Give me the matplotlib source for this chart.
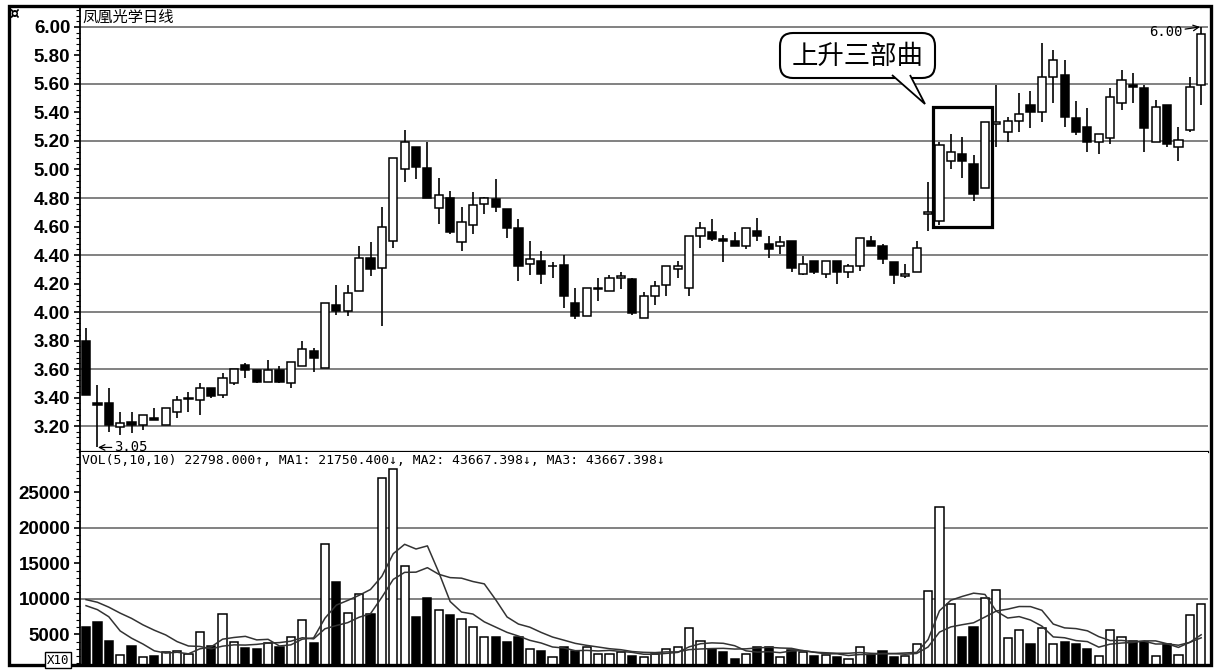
import matplotlib
matplotlib.use("Agg")
import matplotlib.pyplot as plt
from matplotlib.patches import Rectangle, FancyBboxPatch, Polygon
from matplotlib.ticker import MultipleLocator
import pandas as pd

# 日线数据 (开, 高, 低, 收)
opens = [3.80, 3.36, 3.36, 3.19, 3.23, 3.21, 3.26, 3.21, 3.30, 3.39,
         3.38, 3.47, 3.42, 3.50, 3.63, 3.59, 3.51, 3.59, 3.50, 3.62,
         3.73, 3.61, 4.05, 4.01, 4.15, 4.38, 4.31, 4.50, 5.00, 5.16,
         5.01, 4.73, 4.80, 4.49, 4.61, 4.76, 4.79, 4.72, 4.59, 4.34,
         4.36, 4.32, 4.33, 4.06, 3.97, 4.16, 4.15, 4.24, 4.23, 3.96,
         4.11, 4.19, 4.30, 4.17, 4.53, 4.56, 4.51, 4.50, 4.46, 4.57,
         4.48, 4.46, 4.50, 4.27, 4.36, 4.27, 4.36, 4.28, 4.32, 4.50,
         4.46, 4.35, 4.25, 4.28, 4.69, 4.64, 5.06, 5.11, 5.04, 4.87,
         5.32, 5.26, 5.34, 5.45, 5.40, 5.65, 5.66, 5.36, 5.30, 5.19,
         5.22, 5.47, 5.59, 5.57, 5.19, 5.45, 5.16, 5.28, 5.59]
highs = [3.89, 3.49, 3.47, 3.30, 3.30, 3.28, 3.33, 3.33, 3.41, 3.44,
         3.50, 3.47, 3.57, 3.60, 3.64, 3.59, 3.66, 3.62, 3.65, 3.80,
         3.75, 4.06, 4.19, 4.19, 4.46, 4.49, 4.74, 5.08, 5.28, 5.16,
         5.19, 4.94, 4.85, 4.74, 4.84, 4.81, 4.93, 4.72, 4.65, 4.50,
         4.43, 4.35, 4.40, 4.17, 4.17, 4.24, 4.26, 4.28, 4.24, 4.14,
         4.22, 4.32, 4.36, 4.53, 4.63, 4.65, 4.54, 4.56, 4.59, 4.66,
         4.53, 4.53, 4.50, 4.39, 4.36, 4.36, 4.36, 4.34, 4.52, 4.53,
         4.48, 4.35, 4.34, 4.50, 4.91, 5.19, 5.25, 5.23, 5.10, 5.33,
         5.59, 5.37, 5.54, 5.55, 5.89, 5.84, 5.77, 5.48, 5.43, 5.25,
         5.57, 5.70, 5.68, 5.59, 5.49, 5.45, 5.30, 5.65, 6.00]
lows = [3.42, 3.05, 3.16, 3.14, 3.15, 3.17, 3.24, 3.21, 3.26, 3.30,
        3.28, 3.40, 3.40, 3.49, 3.54, 3.50, 3.51, 3.50, 3.47, 3.62,
        3.58, 3.61, 3.98, 3.97, 4.15, 4.25, 3.90, 4.45, 4.91, 4.93,
        4.80, 4.62, 4.55, 4.43, 4.55, 4.69, 4.70, 4.52, 4.22, 4.26,
        4.20, 4.24, 4.03, 3.95, 3.97, 4.08, 4.15, 4.16, 3.98, 3.96,
        4.05, 4.11, 4.24, 4.11, 4.45, 4.50, 4.35, 4.46, 4.44, 4.50,
        4.38, 4.41, 4.28, 4.26, 4.27, 4.24, 4.20, 4.24, 4.29, 4.46,
        4.34, 4.20, 4.24, 4.28, 4.57, 4.61, 5.00, 4.94, 4.78, 4.87,
        5.16, 5.19, 5.26, 5.29, 5.33, 5.47, 5.30, 5.24, 5.12, 5.11,
        5.18, 5.42, 5.47, 5.12, 5.19, 5.16, 5.06, 5.26, 5.45]
closes = [3.42, 3.35, 3.21, 3.22, 3.21, 3.28, 3.24, 3.33, 3.38, 3.40,
          3.47, 3.41, 3.54, 3.60, 3.59, 3.51, 3.59, 3.51, 3.65, 3.74,
          3.68, 4.06, 4.01, 4.13, 4.38, 4.30, 4.60, 5.08, 5.19, 5.02,
          4.80, 4.82, 4.56, 4.63, 4.75, 4.80, 4.74, 4.59, 4.32, 4.37,
          4.27, 4.32, 4.11, 3.97, 4.17, 4.17, 4.24, 4.25, 3.99, 4.11,
          4.18, 4.32, 4.32, 4.53, 4.59, 4.51, 4.50, 4.46, 4.59, 4.53,
          4.44, 4.49, 4.31, 4.34, 4.28, 4.36, 4.28, 4.32, 4.52, 4.46,
          4.37, 4.26, 4.27, 4.45, 4.70, 5.17, 5.12, 5.06, 4.83, 5.33,
          5.33, 5.34, 5.39, 5.40, 5.65, 5.77, 5.37, 5.26, 5.19, 5.25,
          5.51, 5.63, 5.58, 5.29, 5.44, 5.18, 5.21, 5.58, 5.95]
# 成交量
volumes = [6000, 6800, 4100, 2100, 3400, 1900, 2000, 2500, 2700, 2300,
           5400, 3400, 7900, 3900, 3100, 2900, 3800, 3200, 4700, 7100,
           3800, 17700, 12400, 8000, 10700, 7900, 27000, 28300, 14600, 7400,
           10100, 8400, 7700, 7200, 6000, 4600, 4700, 4000, 4600, 3000,
           2700, 1900, 3300, 2700, 3200, 2300, 2300, 2600, 2000, 1900,
           2300, 2900, 3300, 5900, 4100, 2900, 2600, 1600, 2300, 3200,
           3200, 1900, 2800, 2600, 2000, 2100, 1900, 1600, 3300, 2100,
           2700, 1900, 2000, 3700, 11100, 23000, 9300, 4700, 6000, 10200,
           11200, 4500, 5700, 3600, 5900, 3600, 3900, 3700, 2900, 2000,
           5700, 4700, 4100, 4000, 2000, 3700, 2100, 7700, 9300]
# 图左边之外的前几天成交量 (只用来算均线)
prev_volumes = [10500, 11000, 10500, 10800, 11000, 9600, 9100, 12100, 8500]

price_ticks = [3.20, 3.40, 3.60, 3.80, 4.00, 4.20, 4.40, 4.60, 4.80,
               5.00, 5.20, 5.40, 5.60, 5.80, 6.00]
price_grid = [3.20, 3.60, 4.00, 4.40, 4.80, 5.20, 5.60, 6.00]
vol_ticks = [5000, 10000, 15000, 20000, 25000]
vol_grid = [10000, 20000]

df = pd.DataFrame({"open": opens, "high": highs, "low": lows,
                   "close": closes, "vol": volumes})
df["x"] = range(len(df))
allvol = pd.Series(prev_volumes + volumes)
df["ma5"] = allvol.rolling(5, min_periods=1).mean().values[len(prev_volumes):]
df["ma10"] = allvol.rolling(10, min_periods=1).mean().values[len(prev_volumes):]
df["up"] = df["close"] >= df["open"]

W, H = 1216, 671
fig = plt.figure(figsize=(W / 100, H / 100), dpi=100)
fig.patch.set_facecolor("white")
ax1 = fig.add_axes([80 / W, 1 - 452 / H, 1128 / W, 444 / H])
ax2 = fig.add_axes([80 / W, 1 - 664 / H, 1128 / W, 212 / H])

lab_font = dict(family="Liberation Sans", weight="bold", size=13.5)
mono = ["DejaVu Sans Mono"]

# ---- K线 ----
body_w = 0.72
ax1.vlines(df["x"], df["low"], df["high"], color="black", lw=1.2, zorder=3)
hgt = (df["close"] - df["open"]).abs().clip(lower=0.006)
bot = df[["open", "close"]].min(axis=1)
ax1.bar(df["x"], hgt, bottom=bot, width=body_w,
        color=["white" if u else "black" for u in df["up"]],
        edgecolor="black", lw=1.1, zorder=4)

ax1.set_xlim(-0.53, 98.6)
ax1.set_ylim(3.018, 6.133)
for g in price_grid:
    ax1.axhline(g, color="#777777", lw=1.3, zorder=1)
ax1.set_yticks(price_ticks)
ax1.set_yticklabels(["%.2f" % t for t in price_ticks], fontdict=lab_font)
ax1.yaxis.set_minor_locator(MultipleLocator(0.04))
ax1.tick_params(axis="y", which="major", length=4, width=1.2, pad=3)
ax1.tick_params(axis="y", which="minor", length=3, width=0.8)
ax1.set_xticks([])
for s in ["top", "right"]:
    ax1.spines[s].set_visible(False)
ax1.spines["left"].set_linewidth(1.3)
ax1.spines["bottom"].set_linewidth(1.6)

ax1.text(-0.35, 6.13, "凤凰光学日线", family=["Noto Sans CJK SC", "DejaVu Sans"],
         fontsize=11, va="top", ha="left")
ax1.annotate("3.05", xy=(1.05, 3.05), xytext=(2.5, 3.05), va="center",
             family=mono, fontsize=10,
             arrowprops=dict(arrowstyle="->", lw=0.9, shrinkA=0, shrinkB=0))
ax1.annotate("6.00", xy=(97.9, 6.0), xytext=(93.4, 5.965), va="center",
             family=mono, fontsize=10,
             arrowprops=dict(arrowstyle="->", lw=0.9, shrinkA=0, shrinkB=0))

# 上升三部曲 方框
ax1.add_patch(Rectangle((74.4, 4.60), 5.2, 0.84, fill=False,
                        ec="black", lw=2.3, zorder=6))

# ---- 成交量 ----
ax2.bar(df["x"], df["vol"], width=body_w,
        color=["white" if u else "black" for u in df["up"]],
        edgecolor="black", lw=1.1, zorder=3)
ax2.plot(df["x"], df["ma5"], color="#333333", lw=1.1, zorder=4)
ax2.plot(df["x"], df["ma10"], color="#333333", lw=1.1, zorder=4)
ax2.set_xlim(-0.53, 98.6)
ax2.set_ylim(845, 30700)
for g in vol_grid:
    ax2.axhline(g, color="#777777", lw=1.3, zorder=1)
ax2.set_yticks(vol_ticks)
ax2.set_yticklabels([str(t) for t in vol_ticks], fontdict=lab_font)
ax2.yaxis.set_minor_locator(MultipleLocator(1000))
ax2.tick_params(axis="y", which="major", length=4, width=1.2, pad=3)
ax2.tick_params(axis="y", which="minor", length=3, width=0.8)
ax2.set_xticks([])
for s in ["top", "right", "bottom"]:
    ax2.spines[s].set_visible(False)
ax2.spines["left"].set_linewidth(1.3)
ax2.text(-0.35, 30400,
         "VOL(5,10,10) 22798.000↑, MA1: 21750.400↓, MA2: 43667.398↓, MA3: 43667.398↓",
         family=mono, fontsize=9.4, va="top", ha="left")

# ---- 外框, 标注气泡 ----
t = fig.dpi_scale_trans
fig.patches.append(Rectangle((0.09, (H - 665) / 100), 12.02, 6.59, fill=False,
                             ec="black", lw=2.4, transform=t, figure=fig))
fig.patches.append(FancyBboxPatch((7.80, (H - 78) / 100), 1.55, 0.45,
                                  boxstyle="round,pad=0,rounding_size=0.13",
                                  fc="white", ec="black", lw=1.5,
                                  transform=t, figure=fig, zorder=5))
fig.patches.append(Polygon([(8.92, (H - 75) / 100), (9.25, (H - 104) / 100),
                            (9.10, (H - 75) / 100)], closed=False,
                           fc="white", ec="black", lw=1.3,
                           transform=t, figure=fig, zorder=6))
fig.text(8.575 / 12.16, 1 - 56 / H, "上升三部曲",
         family=["Noto Sans CJK SC", "DejaVu Sans"], fontsize=19,
         ha="center", va="center", zorder=7)
fig.text(14 / W, 1 - 14 / H, "¤", fontsize=11, weight="bold",
         ha="center", va="center")
fig.text(58 / W, 1 - 660 / H, "X10", family=mono, fontsize=9,
         ha="center", va="center",
         bbox=dict(boxstyle="square,pad=0.15", fc="white", ec="black", lw=1))

fig.savefig("out.png", dpi=100)
